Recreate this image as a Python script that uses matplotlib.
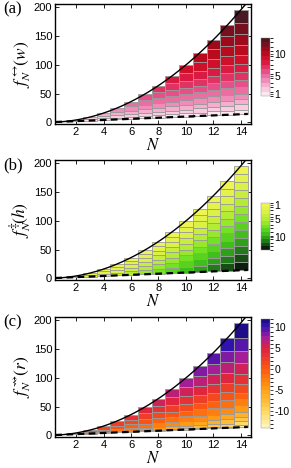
import numpy as np
import matplotlib
matplotlib.use("Agg")
import matplotlib.pyplot as plt
import matplotlib.cm as cm
from matplotlib.colors import LinearSegmentedColormap, ListedColormap, BoundaryNorm

plt.rcParams["font.family"] = ["Liberation Sans", "DejaVu Sans"]
plt.rcParams["mathtext.fontset"] = "stix"
plt.rcParams["axes.unicode_minus"] = False

# colonne N e bordi delle celle (dal basso verso l'alto)
N_cols = [2, 3, 4, 5, 6, 7, 8, 9, 10, 11, 12, 13, 14]

w_edges = [
    [2, 4],
    [3, 5, 9],
    [4, 7, 11, 16],
    [5, 8, 13, 18, 25],
    [6, 10, 14, 20, 28, 36],
    [7, 11, 16, 23, 30, 39, 49],
    [8, 13, 18, 25, 33, 42, 53, 64],
    [9, 14, 20, 28, 36, 46, 56, 68, 81],
    [10, 16, 22, 30, 39, 49, 60, 72, 86, 100],
    [11, 17, 24, 32, 42, 52, 64, 76, 90, 105, 121],
    [12, 19, 26, 35, 45, 56, 68, 81, 95, 110, 127, 144],
    [13, 20, 28, 37, 48, 59, 72, 85, 100, 115, 132, 150, 169],
    [14, 22, 31, 40, 50, 62, 74, 88, 102, 118, 135, 153, 173, 196],
]

h_edges = [
    [2, 4],
    [3, 6, 9],
    [4, 8, 12, 16],
    [5, 10, 15, 20, 25],
    [6, 12, 18, 24, 30, 36],
    [7, 14, 21, 28, 35, 42, 49],
    [8, 16, 24, 32, 40, 48, 56, 64],
    [9, 18, 27, 36, 45, 54, 63, 72, 81],
    [10, 20, 30, 40, 50, 60, 70, 80, 90, 100],
    [11, 22, 33, 44, 55, 66, 77, 88, 99, 110, 121],
    [12, 24, 36, 48, 60, 72, 84, 96, 108, 120, 132, 144],
    [13, 26, 39, 52, 65, 78, 91, 104, 117, 130, 143, 156, 169],
    [14, 28, 42, 56, 70, 84, 98, 112, 126, 140, 154, 168, 182, 196],
]

r_edges = [
    [2, 4],
    [3, 5, 9],
    [4, 6, 10, 16],
    [5, 7, 11, 17, 25],
    [6, 8, 12, 19, 27, 36],
    [7, 9, 13, 20, 28, 38, 49],
    [8, 10, 15, 21, 30, 40, 51, 64],
    [9, 11, 16, 23, 31, 41, 53, 66, 81],
    [10, 12, 17, 24, 33, 43, 55, 69, 84, 100],
    [11, 13, 18, 25, 34, 45, 57, 71, 86, 103, 121],
    [12, 14, 19, 26, 36, 47, 59, 73, 89, 106, 124, 144],
    [13, 15, 20, 28, 37, 48, 61, 75, 91, 109, 127, 147, 169],
    [14, 18, 24, 31, 41, 53, 64, 74, 90, 106, 126, 147, 169, 196],
]

# valore del colore per la cella k (1 = in basso) nella colonna N
def w_val(N, k):
    return k

def h_val(N, k):
    return N - k

def r_val(N, k):
    return 2 * k - N - 1

cmap_w = LinearSegmentedColormap.from_list(
    "w", ["#fde8f2", "#f6b6d4", "#ee7fb0", "#e64a86", "#dc1c44", "#c80a1e", "#96091a", "#4a1a24"])
cmap_h = LinearSegmentedColormap.from_list(
    "h", [(0.0, "#eef552"), (0.2, "#d6f042"), (0.38, "#a6ea30"), (0.52, "#6ce022"),
          (0.7, "#36b81a"), (0.85, "#1e7618"), (1.0, "#0e1e0e")])
cmap_r = LinearSegmentedColormap.from_list(
    "r", [(0.0, "#fff4b4"), (0.15, "#ffd45a"), (0.35, "#ff9e12"), (0.54, "#fc5a10"),
          (0.73, "#de2440"), (0.85, "#a01e9c"), (0.96, "#3012b0"), (1.0, "#1e0c88")])

bounds_w = np.arange(0.5, 14.0, 1.0)
bounds_h = np.arange(0.5, 14.0, 1.0)
bounds_r = np.arange(-14, 13, 1.0)

def discrete(cmap, bounds):
    n = len(bounds) - 1
    cols = cmap(np.linspace(0, 1, n))
    return ListedColormap(cols), BoundaryNorm(bounds, n)

panels = [
    ("(a)", w_edges, w_val, cmap_w, bounds_w, r"$f_N^{\leftrightarrow}\!(w)$", [1, 5, 10], False),
    ("(b)", h_edges, h_val, cmap_h, bounds_h, r"$f_N^{\ddagger}\!(h)$", [1, 5, 10], True),
    ("(c)", r_edges, r_val, cmap_r, bounds_r, r"$f_N^{\leadsto}\!(r)$", [-10, -5, 0, 5, 10], False),
]

W, H = 291, 468
fig = plt.figure(figsize=(W / 100, H / 100), dpi=100)

ax_tops = [4, 160, 317]
cb_boxes = [(38, 96), (203, 250), (319, 428)]

for (lab, edges, vfn, cmap, bounds, ylab, cticks, flip), top, (cb_t, cb_b) in zip(panels, ax_tops, cb_boxes):
    ax = fig.add_axes([55 / W, 1 - (top + 120) / H, 196 / W, 120 / H])
    dcmap, norm = discrete(cmap, bounds)
    for N, e in zip(N_cols, edges):
        for k in range(len(e) - 1):
            v = vfn(N, k + 1)
            ax.bar(N, e[k + 1] - e[k], bottom=e[k], width=1.0, color=dcmap(norm(v)),
                   edgecolor="#9a9a9a", linewidth=0.6, zorder=2)
    xs = np.linspace(0.5, 14.6, 300)
    ax.plot(xs, xs ** 2, color="black", lw=1.0, zorder=3)
    xd = np.linspace(0.5, 14.5, 50)
    ax.plot(xd, xd, color="black", lw=1.6, dashes=(3, 2), zorder=3)

    ax.set_xlim(0.47, 14.73)
    ax.set_ylim(-3, 206)
    ax.set_xticks([2, 4, 6, 8, 10, 12, 14])
    ax.set_yticks([0, 50, 100, 150, 200])
    ax.tick_params(direction="in", length=3, width=0.6, labelsize=8, pad=2,
                   top=True, right=True)
    for s in ax.spines.values():
        s.set_linewidth(1.0)
    ax.set_xlabel("$N$", fontsize=12, labelpad=0)
    ax.set_ylabel(ylab, fontsize=12.5, labelpad=0)

    fig.text(3 / W, 1 - (top + 5) / H, lab, fontsize=12, family="Liberation Serif",
             va="center", ha="left")

    cax = fig.add_axes([261 / W, 1 - cb_b / H, 9 / W, (cb_b - cb_t) / H])
    cb = fig.colorbar(cm.ScalarMappable(norm=norm, cmap=dcmap), cax=cax, ticks=cticks)
    cb.outline.set_linewidth(0.3)
    cb.outline.set_edgecolor("#888888")
    cax.tick_params(labelsize=7.5, length=2, width=0.5, pad=1)
    if flip:
        cax.invert_yaxis()

fig.savefig("out.png", dpi=100)
